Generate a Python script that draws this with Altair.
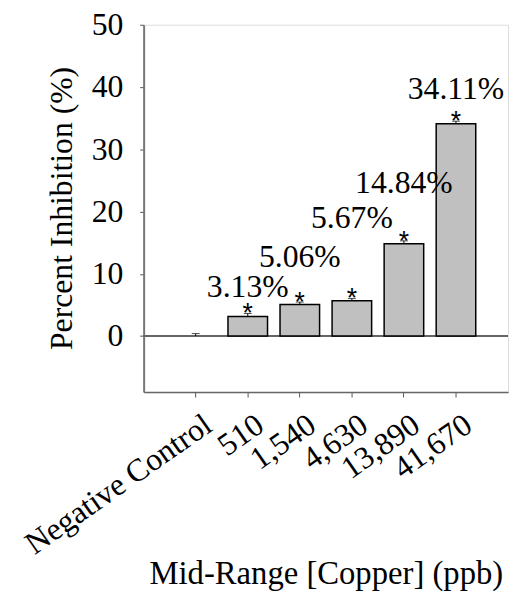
import altair as alt
import pandas as pd

categories = ["Negative Control", "510", "1,540", "4,630", "13,890", "41,670"]
means = [0.0, 3.13, 5.06, 5.67, 14.84, 34.11]
errors = [0.4, 0.5, 0.4, 0.35, 0.45, 0.4]
labels = ["", "3.13%", "5.06%", "5.67%", "14.84%", "34.11%"]
label_y = [None, 6.2, 11.1, 17.3, 23.0, 38.1]
stars = ["", "*", "*", "*", "*", "*"]
y_ticks = [0, 10, 20, 30, 40, 50]

df = pd.DataFrame({
    "cat": categories,
    "mean": means,
    "top": [m + e for m, e in zip(means, errors)],
    "label": labels,
    "label_y": label_y,
    "star": stars,
})

FONT = "Liberation Serif"

x = alt.X("cat:N", sort=categories,
          scale=alt.Scale(paddingInner=0.24, paddingOuter=0.62),
          axis=alt.Axis(title="Mid-Range [Copper] (ppb)", labelAngle=325,
                        labelAlign="right", labelBaseline="top", labelLimit=0,
                        labelFontSize=32, labelFont=FONT, labelColor="black",
                        labelPadding=12, labelOffset=4, tickSize=5, tickColor="#555",
                        domainColor="#666", domainWidth=1.5,
                        titleFontSize=33, titleFont=FONT, titleFontWeight="normal",
                        titleColor="black", titleBaseline="alphabetic",
                        titleAlign="center", titleX=184, titleY=193))

yscale = alt.Scale(domain=[-9, 50], nice=False, zero=False)
y = alt.Y("mean:Q", scale=yscale,
          axis=alt.Axis(title="Percent Inhibition (%)", values=y_ticks,
                        grid=False, labelFontSize=32, labelFont=FONT,
                        labelColor="black", labelPadding=17, tickSize=4,
                        tickColor="#555", domainColor="#777", domainWidth=2,
                        titleFontSize=32, titleFont=FONT, titleFontWeight="normal",
                        titleColor="black", titleAngle=270,
                        titleBaseline="alphabetic", titleAlign="center",
                        titleX=-73, titleY=185))

base = alt.Chart(df)

zero = base.mark_rule(color="#666", strokeWidth=1.5).encode(y=alt.datum(0, scale=yscale))

bars = base.transform_filter("datum.mean > 0").mark_bar(
    color="#c0c0c0", stroke="black", strokeWidth=1.5
).encode(x=x, y=y)

err = base.mark_rule(color="black", strokeWidth=1).encode(
    x=alt.X("cat:N", sort=categories), y=alt.Y("mean:Q"), y2="top:Q")

caps = base.mark_tick(color="black", orient="horizontal", size=8, thickness=1).encode(
    x=alt.X("cat:N", sort=categories), y=alt.Y("top:Q"))

star_txt = base.mark_text(font="Liberation Sans", fontSize=27, color="black",
                          align="center", baseline="alphabetic", dy=9).encode(
    x=alt.X("cat:N", sort=categories), y=alt.Y("top:Q"), text="star:N")

lab = base.transform_filter("datum.label != ''").mark_text(
    font=FONT, fontSize=32, color="black", align="center", baseline="alphabetic"
).encode(x=alt.X("cat:N", sort=categories), y=alt.Y("label_y:Q"), text="label:N")

chart = alt.layer(zero, bars, err, caps, star_txt, lab).properties(
    width=368, height=371,
    autosize=alt.AutoSizeParams(type="none"),
    padding={"left": 137, "top": 14, "right": 2, "bottom": 202},
).configure_view(stroke="#333", strokeWidth=1.5).configure(font=FONT)

chart.save("out.html", embed_options={"renderer": "svg", "actions": False})
